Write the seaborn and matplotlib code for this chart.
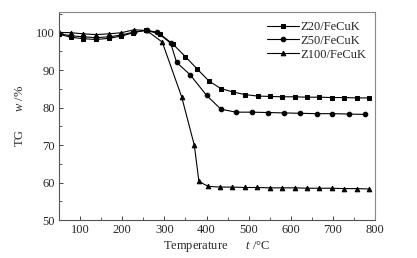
import matplotlib
matplotlib.use("Agg")
import matplotlib.pyplot as plt
import seaborn as sns
import pandas as pd
from matplotlib.ticker import MultipleLocator

# ---- data ----
t_z20 = [50, 79, 108, 138, 168, 198, 226, 256, 290, 320, 350, 378, 406, 434, 462, 491,
         521, 550, 579, 609, 638, 668, 697, 727, 756, 785]
w_z20 = [99.6, 98.8, 98.4, 98.2, 98.5, 99.1, 100.0, 100.7, 99.6, 97.0, 93.6, 90.3, 87.1,
         85.1, 84.2, 83.5, 83.1, 83.0, 82.9, 82.9, 82.8, 82.8, 82.7, 82.7, 82.6, 82.6]

t_z50 = [50, 79, 108, 138, 168, 198, 228, 258, 282, 315, 329, 361, 400, 434, 470, 507,
         547, 584, 622, 661, 698, 737, 775]
w_z50 = [99.7, 99.2, 98.9, 98.7, 98.9, 99.4, 100.2, 100.6, 100.2, 97.2, 92.1, 88.8, 83.3,
         79.6, 78.8, 78.8, 78.7, 78.6, 78.5, 78.4, 78.4, 78.3, 78.2]

t_z100 = [50, 79, 108, 138, 168, 198, 228, 258, 295, 341, 371, 382, 404, 432, 461, 491,
          520, 550, 579, 609, 638, 667, 697, 726, 756, 785]
w_z100 = [100.1, 100.0, 99.7, 99.5, 99.7, 100.0, 100.8, 100.6, 97.5, 82.9, 70.0, 60.3, 59.0,
          58.8, 58.8, 58.7, 58.7, 58.6, 58.6, 58.6, 58.5, 58.5, 58.5, 58.4, 58.4, 58.3]

labels = ["Z20/FeCuK", "Z50/FeCuK", "Z100/FeCuK"]
markers = ["s", "o", "^"]

frames = []
for lab, t, w in zip(labels, [t_z20, t_z50, t_z100], [w_z20, w_z50, w_z100]):
    frames.append(pd.DataFrame({"T": t, "w": w, "sample": lab}))
df = pd.concat(frames, ignore_index=True)

# ---- style ----
sns.set_theme(style="white")
plt.rcParams["font.family"] = ["Liberation Serif", "DejaVu Serif"]
plt.rcParams["mathtext.fontset"] = "custom"
plt.rcParams["mathtext.rm"] = "Liberation Serif"
plt.rcParams["mathtext.it"] = "Liberation Serif:italic"

fig = plt.figure(figsize=(4.17, 2.58), dpi=100)
ax = fig.add_axes([0.1415, 0.147, 0.758, 0.806])

for lab, m in zip(labels, markers):
    sub = df[df["sample"] == lab]
    sns.lineplot(data=sub, x="T", y="w", ax=ax, color="black", lw=0.8,
                 marker=m, markersize=3.3, markeredgecolor="black",
                 markerfacecolor="black", label=lab, sort=False, estimator=None)

ax.set_xlim(50, 800)
ax.set_ylim(50, 105.5)
ax.xaxis.set_major_locator(MultipleLocator(100))
ax.xaxis.set_minor_locator(MultipleLocator(50))
ax.yaxis.set_major_locator(MultipleLocator(10))
ax.yaxis.set_minor_locator(MultipleLocator(5))
ax.set_xticks([100, 200, 300, 400, 500, 600, 700, 800])
ax.set_yticks([50, 60, 70, 80, 90, 100])
ax.tick_params(which="both", direction="in", bottom=True, left=True, top=False, right=False,
               labelsize=9, color="#444444", pad=3)
ax.tick_params(which="major", length=3, width=0.7)
ax.tick_params(which="minor", length=2, width=0.6)
for s in ax.spines.values():
    s.set_color("#888888")
    s.set_linewidth(0.8)
ax.spines["left"].set_color("#555555")
ax.spines["bottom"].set_color("#555555")

ax.set_xlabel("Temperature      $t$ /°C", fontsize=9, labelpad=2)
ax.set_ylabel("TG      $w$ /%", fontsize=9, labelpad=7)

leg = ax.legend(loc="upper right", frameon=False, fontsize=9, handlelength=2.6,
                handletextpad=0.1, borderaxespad=0.3, labelspacing=0.15)

fig.savefig("out.png", dpi=100)
